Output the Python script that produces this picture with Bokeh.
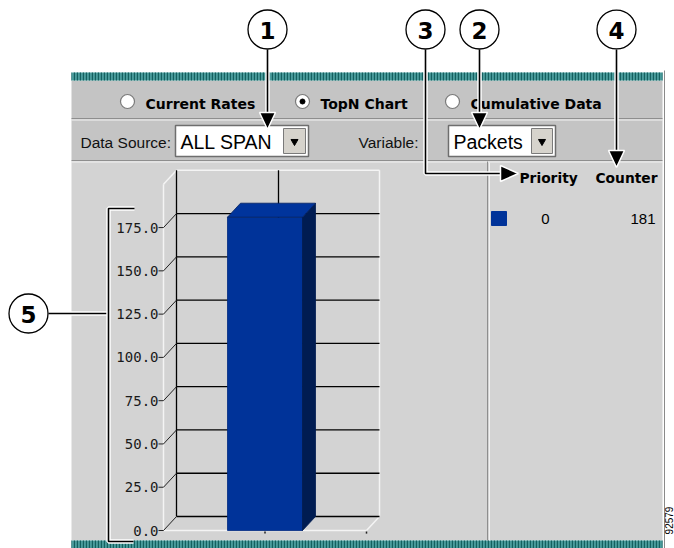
import math
from bokeh.plotting import figure
from bokeh.models import Range1d
from bokeh.core.properties import value
from bokeh.embed import file_html
from bokeh.resources import INLINE

# ---------------- data ----------------
priorities = ["0"]
counters = [181]
tick_values = [0, 25, 50, 75, 100, 125, 150, 175]
tick_labels = ["0.0", "25.0", "50.0", "75.0", "100.0", "125.0", "150.0", "175.0"]
axis_max = 200
radio_labels = ["Current Rates", "TopN Chart", "Cumulative Data"]
radio_selected = [False, True, False]
data_source = "ALL SPAN"
variable = "Packets"
legend_headers = ["Priority", "Counter"]
callout_labels = ["1", "2", "3", "4", "5"]
figure_id = "92579"

# ---------------- layout (image pixels) ----------------
IMG_W, IMG_H = 674, 548
Y0 = 530.0          # pixel row of value 0 on the front axis
PXU = 1.731         # pixels per value unit
DX = 13.0           # 3D depth, horizontal px
DEPTH = 14.0 / PXU  # 3D depth in value units

p = figure(width=IMG_W, height=IMG_H,
           x_range=Range1d(0, IMG_W),
           y_range=Range1d((Y0 - IMG_H) / PXU, Y0 / PXU),
           output_backend="svg", toolbar_location=None,
           x_axis_location=None, y_axis_location=None,
           min_border=0, outline_line_color=None,
           background_fill_color="white", border_fill_color="white")
p.extra_y_ranges = {"px": Range1d(IMG_H, 0)}
p.grid.visible = False

PX = dict(y_range_name="px")


def rect(l, t, r, b, fill, line=None, lw=1, **kw):
    p.quad(left=[l], right=[r], top=[t], bottom=[b], fill_color=fill,
           line_color=line, line_width=lw, **PX, **kw)


def seg(x0, y0, x1, y1, color, w=1.0, px=True):
    extra = PX if px else {}
    p.segment(x0=[x0], y0=[y0], x1=[x1], y1=[y1], line_color=color,
              line_width=w, **extra)


def txt(x, y, s, size, bold=False, align="left", color="black",
        font="DejaVu Sans", angle=0.0, px=True):
    extra = PX if px else {}
    p.text(x=[x], y=[y], text=[s], text_font=value(font),
           text_font_size=f"{size}px",
           text_font_style="bold" if bold else "normal",
           text_align=align, text_baseline="middle", text_color=color,
           angle=angle, **extra)


# ---------------- panel ----------------
PL, PR = 71, 662
rect(PL, 80, PR, 160, "#c4c4c4")
rect(PL, 160, PR, 540, "#d3d3d3")
# teal bars
for t, b in [(72, 80), (540, 548)]:
    rect(PL, t, PR, b, "#4a9c9c", hatch_pattern="vertical_line",
         hatch_color="#14605f", hatch_scale=3, hatch_weight=1.3)
# separators
seg(PL, 118, PR, 118, "#8e8e8e", 1)
seg(PL, 119.5, PR, 119.5, "#f2f2f2", 1)
seg(PL, 160, PR, 160, "#8e8e8e", 1)
seg(PL, 161.5, PR, 161.5, "#f2f2f2", 1)
seg(487, 161, 487, 540, "#8e8e8e", 1)
seg(489, 162, 489, 540, "#f2f2f2", 1)
seg(664, 70, 664, 548, "#8a8a8a", 1)

# ---------------- radio row ----------------
radio_x = [127, 302, 452]
label_x = [145, 320, 470]
for rx, lx, lab, sel in zip(radio_x, label_x, radio_labels, radio_selected):
    p.scatter(x=[rx], y=[101], marker="circle", size=14, fill_color="white",
              line_color="#7a7a7a", line_width=1.2, **PX)
    if sel:
        p.scatter(x=[rx], y=[101], marker="circle", size=5,
                  fill_color="black", line_color="black", **PX)
    txt(lx, 103, lab, 14, bold=True)

# ---------------- dropdown row ----------------
txt(80, 142, "Data Source:", 15.5, color="#111", font="Liberation Sans")
txt(418, 142, "Variable:", 15.5, align="right", color="#111", font="Liberation Sans")
for (l, r, btn, label) in [(175, 308, 283, data_source), (448, 555, 531, variable)]:
    rect(l, 125, r, 156, "white", line="#6e6e6e", lw=1.5)
    rect(btn, 128, r - 3, 153, "#d6d3cc", line="#7a7a7a", lw=1)
    p.scatter(x=[(btn + r - 3) / 2], y=[141], marker="inverted_triangle",
              size=7, fill_color="black", line_color="black", **PX)
    txt(l + 5, 141, label, 19.5, color="black", font="Liberation Sans")

# ---------------- 3D chart (value units on y) ----------------
BL, BR = 176, 379          # back wall x extent
FL, FR = BL - DX, BR - DX  # front edge x extent
top_back = axis_max + DEPTH
wh = "#f4f4f4"
# white box edges
p.segment(x0=[FL, FL, BL, BR, FL, FR], y0=[0, axis_max, top_back, top_back, 0, 0],
          x1=[FL, BL, BR, BR, FR, BR], y1=[axis_max, top_back, top_back, DEPTH, 0, DEPTH],
          line_color=wh, line_width=1.5)
# back gridlines
p.segment(x0=[BL] * len(tick_values), x1=[BR] * len(tick_values),
          y0=[v + DEPTH for v in tick_values], y1=[v + DEPTH for v in tick_values],
          line_color="black", line_width=1.3)
# back wall left edge and category divider
p.segment(x0=[BL, 278], x1=[BL, 278], y0=[DEPTH, DEPTH], y1=[top_back, top_back],
          line_color="black", line_width=1.3)
# diagonal tick marks and labels
p.segment(x0=[FL] * len(tick_values), x1=[BL] * len(tick_values),
          y0=tick_values, y1=[v + DEPTH for v in tick_values],
          line_color="#222", line_width=1)
p.segment(x0=[FL - 5] * len(tick_values), x1=[FL] * len(tick_values),
          y0=tick_values, y1=tick_values, line_color="#222", line_width=1)
p.text(x=[FL - 5] * len(tick_values), y=tick_values, text=tick_labels,
       text_font=value("DejaVu Sans Mono"), text_font_size="14px",
       text_align="right", text_baseline="middle", text_color="#1a1a1a")
# small category ticks below the floor
p.segment(x0=[264.5, 366], x1=[264.5, 366], y0=[-0.6, -0.6], y1=[-1.8, -1.8],
          line_color="#222", line_width=1.5)

# bar
bar_l, bar_r = 227, 302
for v in counters:
    p.quad(left=[bar_l], right=[bar_r], bottom=[0], top=[v],
           fill_color="#003399", line_color="#002a80", line_width=0.8)
    p.patch(x=[bar_r, bar_r + DX, bar_r + DX, bar_r], y=[0, DEPTH, v + DEPTH, v],
            fill_color="#001c52", line_color="#001c52", line_width=0.8)
    p.patch(x=[bar_l, bar_r, bar_r + DX, bar_l + DX], y=[v, v, v + DEPTH, v + DEPTH],
            fill_color="#00349c", line_color="#001f60", line_width=0.8)

# ---------------- legend / table on the right ----------------
txt(519, 177, legend_headers[0], 13.8, bold=True)
txt(657, 177, legend_headers[1], 13.8, bold=True, align="right")
for i, (pr, cnt) in enumerate(zip(priorities, counters)):
    ry = 218 + i * 22
    rect(491, ry - 7, 506, ry + 7, "#003399", line="#003399")
    txt(545, ry, pr, 15, align="center", font="Liberation Sans")
    txt(655, ry, str(cnt), 15, align="right", font="Liberation Sans")

# ---------------- callouts ----------------


def callout_line(xs, ys):
    p.line(x=xs, y=ys, line_color="white", line_width=4.5, **PX)
    p.line(x=xs, y=ys, line_color="black", line_width=1.6, **PX)


def arrow_down(x, tip):
    p.patch(x=[x - 8, x + 8, x], y=[tip - 17, tip - 17, tip], fill_color="black",
            line_color="white", line_width=1.5, **PX)


def arrow_right(tip, y):
    p.patch(x=[tip - 18, tip - 18, tip], y=[y - 8, y + 8, y], fill_color="black",
            line_color="white", line_width=1.5, **PX)


callout_line([267, 267], [49, 115])
arrow_down(267, 129)
callout_line([479, 479], [49, 115])
arrow_down(479, 129)
callout_line([616, 616], [49, 152])
arrow_down(616, 167)
callout_line([425, 425, 502], [49, 173, 173])
arrow_right(518, 173)
callout_line([48, 108], [313, 313])
callout_line([134, 108, 108, 133], [208, 208, 541, 541])

circle_pos = [(267, 29), (479, 29), (425, 29), (616, 29), (28, 313)]
for (cx, cy), lab in zip(circle_pos, callout_labels):
    p.scatter(x=[cx], y=[cy], marker="circle", size=39, fill_color="white",
              line_color="black", line_width=1.3, **PX)
    txt(cx, cy + 1, lab, 23, bold=True, align="center")

txt(668, 520, figure_id, 10, align="center", angle=math.pi / 2, font="Liberation Sans")

open("out.html", "w").write(file_html(p, INLINE))
